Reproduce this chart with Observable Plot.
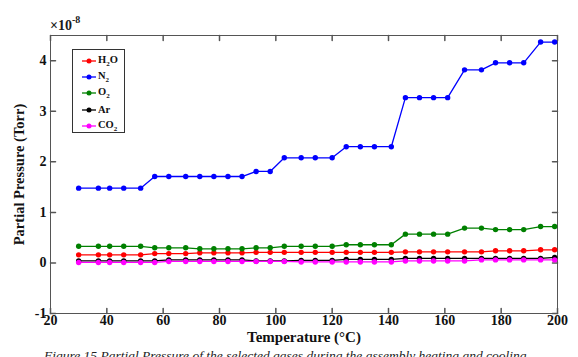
<!DOCTYPE html>
<html><head><meta charset="utf-8">
<script src="https://cdn.jsdelivr.net/npm/d3@7"></script>
<script src="https://cdn.jsdelivr.net/npm/@observablehq/plot@0.6"></script>
<style>
html,body{margin:0;padding:0;background:#fff;overflow:hidden;width:578px;height:357px}
#wrap{position:relative;width:578px;height:357px;overflow:hidden;font-family:"Liberation Serif","Times New Roman",serif}
#chart svg{display:block}
#exp{position:absolute;left:50px;top:15px;font-size:14px;font-weight:bold;color:#1a1a1a;white-space:nowrap}
#exp sup{font-size:10px;position:relative;top:-1px}
#legend{position:absolute;left:72px;top:49px;width:53px;height:84px;border:1px solid #333;background:#fff;box-sizing:border-box}
.entry{position:absolute;left:0;height:16px;display:flex;align-items:center;font-size:10.5px;font-weight:bold;color:#111;white-space:nowrap}
.entry svg{margin-left:9px;margin-right:2px}
.entry sub{font-size:7px;vertical-align:-3px}
#caption{position:absolute;left:44px;top:348px;font-size:13.5px;font-style:italic;color:#222;white-space:nowrap}
</style></head><body>
<div id="wrap"><div id="chart"></div><div id="exp"></div><div id="legend"></div><div id="caption"></div></div>
<script>
// Temperature (°C)
const temperature = [30,37,41,46,52,57,62,68,73,78,83,88,93,98,103,109,114,120,125,130,135,141,146,151,156,161,167,173,178,183,188,194,199];
// Partial pressures in units of 1e-8 Torr
const h2o = [0.16,0.16,0.16,0.16,0.16,0.185,0.185,0.185,0.20,0.20,0.20,0.20,0.21,0.21,0.21,0.21,0.21,0.21,0.21,0.21,0.21,0.21,0.22,0.22,0.22,0.22,0.22,0.22,0.24,0.24,0.24,0.26,0.26];
const n2  = [1.48,1.48,1.48,1.48,1.48,1.71,1.71,1.71,1.71,1.71,1.71,1.71,1.81,1.81,2.08,2.08,2.08,2.08,2.30,2.30,2.30,2.30,3.27,3.27,3.27,3.27,3.82,3.82,3.96,3.96,3.96,4.37,4.37];
const o2  = [0.33,0.33,0.33,0.33,0.33,0.30,0.30,0.30,0.28,0.28,0.28,0.28,0.30,0.30,0.33,0.33,0.33,0.33,0.36,0.36,0.36,0.36,0.57,0.57,0.57,0.57,0.69,0.69,0.66,0.66,0.66,0.72,0.72];
const ar  = [0.04,0.04,0.04,0.04,0.04,0.04,0.06,0.06,0.06,0.06,0.06,0.06,0.04,0.04,0.04,0.05,0.05,0.05,0.07,0.07,0.07,0.07,0.09,0.09,0.09,0.09,0.09,0.09,0.09,0.09,0.09,0.09,0.11];
const co2 = [0.01,0.01,0.01,0.01,0.01,0.01,0.03,0.03,0.03,0.03,0.03,0.03,0.03,0.03,0.03,0.02,0.02,0.02,0.02,0.02,0.02,0.02,0.04,0.04,0.04,0.04,0.04,0.06,0.06,0.06,0.06,0.06,0.06];

const seriesNames  = ["H2O","N2","O2","Ar","CO2"];
const seriesLabels = ["H<sub>2</sub>O","N<sub>2</sub>","O<sub>2</sub>","Ar","CO<sub>2</sub>"];
const seriesColors = ["#ff0000","#0000ff","#008000","#000000","#ff00ff"];
const seriesValues = [h2o, n2, o2, ar, co2];

const xTicks = [20,40,60,80,100,120,140,160,180,200];
const yTicks = [-1,0,1,2,3,4];
const xTitle = "Temperature (°C)";
const yTitle = "Partial Pressure (Torr)";
const expBase = "×10", expPow = "-8";
const captionText = "Figure 15 Partial Pressure of the selected gases during the assembly heating and cooling";

const rows = seriesNames.flatMap((s, i) => temperature.map((t, j) => ({series: s, t, v: seriesValues[i][j]})));

const tickShape = {draw(ctx, l) { ctx.moveTo(0, 0); ctx.lineTo(0, -l); }};
const axisCol = "#555";
const font = '"Liberation Serif","Times New Roman",serif';

const marks = [
  Plot.frame({stroke: axisCol, strokeWidth: 1}),
  // inward ticks on all four sides
  Plot.vector(xTicks, {x: d => d, frameAnchor: "bottom", length: 5, rotate: 0, anchor: "start", shape: tickShape, stroke: axisCol}),
  Plot.vector(xTicks, {x: d => d, frameAnchor: "top", length: 5, rotate: 180, anchor: "start", shape: tickShape, stroke: axisCol}),
  Plot.vector(yTicks, {y: d => d, frameAnchor: "left", length: 5, rotate: 90, anchor: "start", shape: tickShape, stroke: axisCol}),
  Plot.vector(yTicks, {y: d => d, frameAnchor: "right", length: 5, rotate: -90, anchor: "start", shape: tickShape, stroke: axisCol}),
  Plot.axisX(xTicks, {tickSize: 0, tickPadding: 2, fontSize: 14, fontWeight: "bold", fill: "#111", label: null}),
  Plot.axisY(yTicks, {tickSize: 0, tickPadding: 4, fontSize: 14, fontWeight: "bold", fill: "#111", label: null, tickFormat: d => d < 0 ? "-" + Math.abs(d) : String(d)}),
  Plot.text([xTitle], {text: d => d, frameAnchor: "bottom", dy: 17.5, lineAnchor: "top", textAnchor: "middle", fontSize: 15, fontWeight: "bold", fill: "#111"}),
  Plot.text([yTitle], {text: d => d, frameAnchor: "left", dx: -31, rotate: -90, textAnchor: "middle", fontSize: 14.5, fontWeight: "bold", fill: "#111"})
];
seriesNames.forEach((s, i) => {
  const data = rows.filter(r => r.series === s);
  marks.push(Plot.line(data, {x: "t", y: "v", stroke: seriesColors[i], strokeWidth: 1.3}));
  marks.push(Plot.dot(data, {x: "t", y: "v", fill: seriesColors[i], r: 2.7, stroke: "none"}));
});

const chart = Plot.plot({
  width: 578, height: 347,
  marginLeft: 50, marginRight: 21, marginTop: 35, marginBottom: 34,
  style: {fontFamily: font, background: "#fff"},
  x: {domain: [20, 200], axis: null},
  y: {domain: [-1, 4.5], axis: null},
  marks
});
document.getElementById("chart").appendChild(chart);

document.getElementById("exp").innerHTML = expBase + "<sup>" + expPow + "</sup>";
document.getElementById("caption").textContent = captionText;

const legend = document.getElementById("legend");
seriesNames.forEach((s, i) => {
  const e = document.createElement("div");
  e.className = "entry";
  e.style.top = (3 + i * 16.2) + "px";
  e.innerHTML = `<svg width="14" height="8"><line x1="0" y1="4" x2="14" y2="4" stroke="${seriesColors[i]}" stroke-width="1.3"/><circle cx="7" cy="4" r="2.5" fill="${seriesColors[i]}"/></svg><span>${seriesLabels[i]}</span>`;
  legend.appendChild(e);
});
</script>
</body></html>
